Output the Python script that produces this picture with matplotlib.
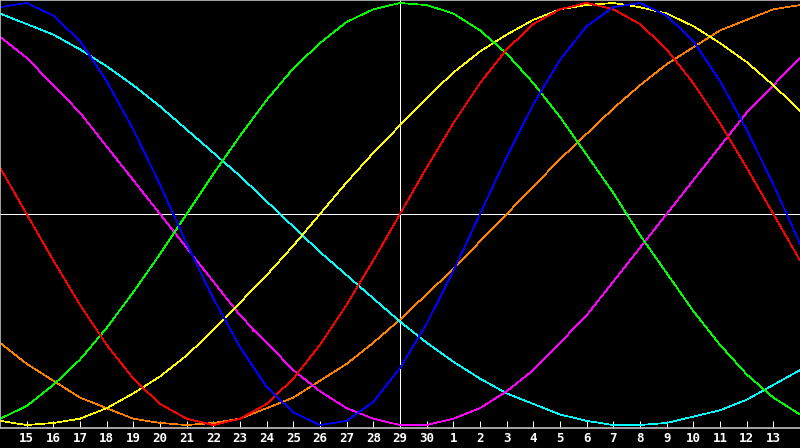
import numpy as np
import matplotlib
matplotlib.use('Agg')
import matplotlib.pyplot as plt

# Day labels under ticks 1..29 (chart spans 30 days, centre = day 29)
day_labels = [15, 16, 17, 18, 19, 20, 21, 22, 23, 24, 25, 26, 27, 28, 29, 30,
              1, 2, 3, 4, 5, 6, 7, 8, 9, 10, 11, 12, 13]

# Cycle values, one per day (31 samples)
physical = [0.98, 1.00, 0.94, 0.82, 0.63, 0.40, 0.14, -0.14, -0.40, -0.63, -0.82,
            -0.94, -1.00, -0.98, -0.89, -0.73, -0.52, -0.27, 0.00, 0.27, 0.52,
            0.73, 0.89, 0.98, 1.00, 0.94, 0.82, 0.63, 0.40, 0.14, -0.14]
emotional = [0.22, 0.00, -0.22, -0.43, -0.62, -0.78, -0.90, -0.97, -1.00, -0.97,
             -0.90, -0.78, -0.62, -0.43, -0.22, 0.00, 0.22, 0.43, 0.62, 0.78,
             0.90, 0.97, 1.00, 0.97, 0.90, 0.78, 0.62, 0.43, 0.22, 0.00, -0.22]
intellectual = [-0.97, -0.91, -0.81, -0.69, -0.54, -0.37, -0.19, 0.00, 0.19, 0.37,
                0.54, 0.69, 0.81, 0.91, 0.97, 1.00, 0.99, 0.95, 0.87, 0.76, 0.62,
                0.46, 0.28, 0.10, -0.10, -0.28, -0.46, -0.62, -0.76, -0.87, -0.95]
intuitive = [0.84, 0.74, 0.61, 0.48, 0.32, 0.16, 0.00, -0.16, -0.32, -0.48, -0.61,
             -0.74, -0.84, -0.92, -0.97, -1.00, -1.00, -0.97, -0.92, -0.84, -0.74,
             -0.61, -0.48, -0.32, -0.16, 0.00, 0.16, 0.32, 0.48, 0.61, 0.74]
aesthetic = [-0.98, -1.00, -0.99, -0.97, -0.92, -0.85, -0.77, -0.67, -0.55, -0.42,
             -0.29, -0.15, 0.00, 0.15, 0.29, 0.42, 0.55, 0.67, 0.77, 0.85, 0.92,
             0.97, 0.99, 1.00, 0.98, 0.95, 0.89, 0.81, 0.72, 0.61, 0.49]
awareness = [-0.61, -0.71, -0.79, -0.87, -0.92, -0.97, -0.99, -1.00, -0.99, -0.97,
             -0.92, -0.87, -0.79, -0.71, -0.61, -0.50, -0.38, -0.26, -0.13, 0.00,
             0.13, 0.26, 0.38, 0.50, 0.61, 0.71, 0.79, 0.87, 0.92, 0.97, 0.99]
spiritual = [0.95, 0.90, 0.85, 0.78, 0.70, 0.61, 0.51, 0.40, 0.29, 0.18, 0.06,
             -0.06, -0.18, -0.29, -0.40, -0.51, -0.61, -0.70, -0.78, -0.85, -0.90,
             -0.95, -0.98, -1.00, -1.00, -0.99, -0.96, -0.93, -0.88, -0.81, -0.74]

series = [
    (awareness, '#ff8000'),
    (spiritual, '#00ffff'),
    (intuitive, '#ff00ff'),
    (aesthetic, '#ffff00'),
    (intellectual, '#00ff00'),
    (emotional, '#ff0000'),
    (physical, '#0000ff'),
]

days = np.arange(len(physical))

fig = plt.figure(figsize=(8, 4.48), dpi=100, facecolor='black')
ax = fig.add_axes([0, 20 / 448, 1, 428 / 448])
ax.set_facecolor('black')

# centre cross
ax.axhline(0, color='white', lw=0.72, antialiased=False, zorder=1)
ax.axvline(15, color='white', lw=0.72, antialiased=False, zorder=1)

for vals, col in series:
    ax.plot(days, vals, color=col, lw=0.5, antialiased=False, zorder=2)

ax.set_xlim(0, 30)
ax.set_ylim(-1.014, 1.014)

ax.set_xticks(np.arange(1, 30))
ax.set_xticklabels([str(d) for d in day_labels], color='white',
                   family='DejaVu Sans Mono', fontweight='bold', fontsize=9)
ax.set_yticks([])
ax.tick_params(axis='x', direction='in', length=5, width=0.72, color='white', pad=3)

for side in ['left', 'top', 'bottom']:
    ax.spines[side].set_color('#c0c0c0')
    ax.spines[side].set_linewidth(1.2)
ax.spines['right'].set_visible(False)

fig.savefig('out.png', dpi=100, facecolor='black')
